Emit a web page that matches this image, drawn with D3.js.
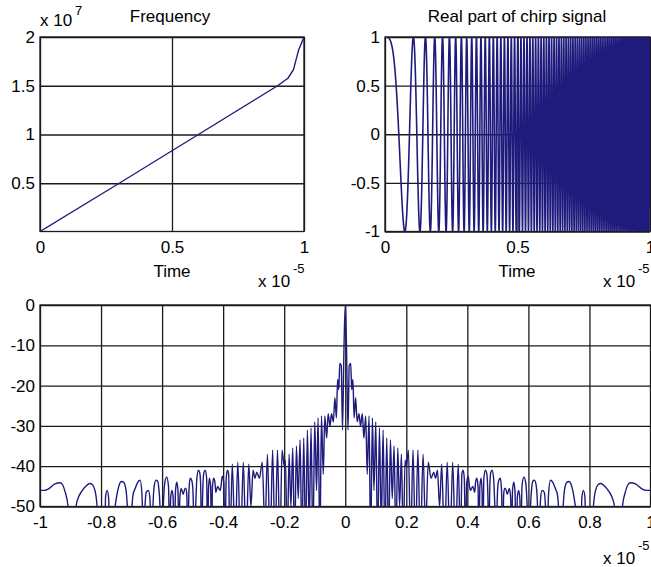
<!DOCTYPE html>
<html>
<head>
<meta charset="utf-8">
<script src="https://cdn.jsdelivr.net/npm/d3@7"></script>
<style>
  body { margin: 0; background: #fff; }
  svg { display: block; }
  text { font-family: "Liberation Sans", Arial, Helvetica, sans-serif; fill: #000; }
</style>
</head>
<body>
<svg id="chart" width="651" height="567"></svg>
<script>
// ---- data ----
// instantaneous frequency: time in units of 1e-5 s, frequency in units of 1e7 Hz
const freqTime = [0, 0.3, 0.6, 0.9, 0.94, 0.96, 0.98, 1.0];
const freqValue = [0.005, 0.5, 1.0, 1.5, 1.58, 1.665, 1.87, 2.0];

const freqXTicks = [0, 0.5, 1];
const freqYTicks = [0.5, 1, 1.5, 2];
const chirpXTicks = [0, 0.5, 1];
const chirpYTicks = [-1, -0.5, 0, 0.5, 1];
const corrXTicks = [-1, -0.8, -0.6, -0.4, -0.2, 0, 0.2, 0.4, 0.6, 0.8, 1];
const corrYTicks = [-50, -40, -30, -20, -10, 0];

// compressed pulse (dB), right half of the symmetric response: [lag (1e-5 s), level (dB)]
// nulls that fall below the axis floor are given as -60 and clipped
const corrRight = [
  [0, 0], [0.004, -10], [0.009, -31], [0.013, -15], [0.018, -14.5], [0.021, -21],
  [0.025, -18.5], [0.029, -28], [0.034, -23], [0.039, -29], [0.045, -27], [0.050, -30],
  [0.056, -27], [0.061, -33], [0.067, -27.5], [0.072, -42], [0.078, -27.5], [0.083, -60],
  [0.089, -28], [0.094, -46], [0.100, -29], [0.106, -60], [0.112, -30.5], [0.118, -55],
  [0.124, -31], [0.130, -60], [0.136, -33], [0.142, -60], [0.148, -33.5], [0.154, -48],
  [0.160, -35], [0.166, -60], [0.172, -35.5], [0.178, -50], [0.184, -37], [0.190, -60],
  [0.196, -38.5], [0.200, -40], [0.207, -36], [0.214, -60], [0.222, -36], [0.230, -60],
  [0.238, -36], [0.246, -60], [0.255, -37], [0.263, -56], [0.272, -39], [0.281, -43],
  [0.290, -41.5], [0.296, -43], [0.302, -41], [0.309, -50], [0.316, -39.5], [0.325, -60],
  [0.334, -39], [0.343, -60], [0.352, -39], [0.361, -60], [0.370, -39.5], [0.378, -60],
  [0.382, -42], [0.386, -41], [0.390, -43], [0.394, -60],
  [0.398, -44], [0.403, -42.5], [0.407, -45], [0.410, -46], [0.414, -45.5], [0.418, -45],
  [0.422, -46], [0.424, -46.5], [0.427, -44], [0.431, -43], [0.435, -45], [0.438, -60],
  [0.441, -45], [0.445, -43], [0.448, -46], [0.451, -60],
  [0.454, -43], [0.459, -41], [0.464, -42], [0.468, -50], [0.470, -60],
  [0.474, -44], [0.477, -41.5], [0.481, -41], [0.486, -43], [0.490, -50], [0.494, -60],
  [0.499, -46], [0.503, -43.5], [0.508, -43], [0.512, -46], [0.516, -60],
  [0.519, -47], [0.522, -45.5], [0.525, -45.5], [0.531, -47], [0.535, -46], [0.538, -45.5],
  [0.542, -48], [0.545, -60],
  [0.548, -46], [0.552, -44], [0.556, -46], [0.560, -60],
  [0.564, -47.5], [0.568, -46], [0.572, -48], [0.575, -60],
  [0.579, -45], [0.585, -42.7], [0.591, -44], [0.596, -50], [0.600, -60],
  [0.609, -47], [0.614, -43.8], [0.620, -43.5], [0.626, -45], [0.631, -52], [0.634, -60],
  [0.640, -48], [0.645, -46], [0.652, -46.5], [0.657, -52], [0.660, -60],
  [0.666, -47], [0.672, -43.5], [0.680, -44], [0.688, -45.5], [0.695, -47], [0.700, -52], [0.704, -60],
  [0.712, -52], [0.718, -46], [0.726, -44], [0.733, -43.8], [0.742, -45], [0.750, -48],
  [0.756, -52], [0.760, -60],
  [0.772, -60], [0.775, -48], [0.780, -46], [0.785, -47.5], [0.789, -60],
  [0.808, -60], [0.813, -50], [0.820, -46], [0.828, -44.6], [0.837, -44.3], [0.850, -45],
  [0.864, -46.3], [0.875, -47.9], [0.882, -50], [0.887, -60],
  [0.903, -60], [0.908, -50], [0.918, -46.3], [0.926, -44.6], [0.934, -44.1], [0.951, -44.4],
  [0.973, -45.7], [0.985, -46], [1.0, -46]
];

// ---- setup ----
const svg = d3.select("#chart");
const lineColor = "#1f1b7d";
const gridColor = "#1a1a1a";
const fontSize = 17;

function drawPanel(id, x, y, xTicks, yTicks) {
  const [xa, xb] = x.range();
  const [yb, ya] = y.range();
  const g = svg.append("g");

  g.append("clipPath").attr("id", id)
    .append("rect").attr("x", xa).attr("y", ya).attr("width", xb - xa).attr("height", yb - ya);

  const gx = g.append("g")
    .attr("transform", `translate(0,${yb})`)
    .call(d3.axisBottom(x).tickValues(xTicks).tickSize(-(yb - ya)).tickPadding(9).tickFormat(String));
  const gy = g.append("g")
    .attr("transform", `translate(${xa},0)`)
    .call(d3.axisLeft(y).tickValues(yTicks).tickSize(-(xb - xa)).tickPadding(5).tickFormat(String));
  [gx, gy].forEach((a) => {
    a.select(".domain").remove();
    a.selectAll("line").attr("stroke", gridColor).attr("stroke-width", 1.3);
    a.selectAll("text").attr("font-size", fontSize).attr("fill", "#000")
      .style("font-family", '"Liberation Sans", Arial, Helvetica, sans-serif');
  });

  g.append("rect")
    .attr("x", xa).attr("y", ya).attr("width", xb - xa).attr("height", yb - ya)
    .attr("fill", "none").attr("stroke", gridColor).attr("stroke-width", 1.3);

  return g.append("g").attr("clip-path", `url(#${id})`);
}

function addText(str, x, y, size, anchor) {
  svg.append("text").attr("x", x).attr("y", y).attr("font-size", size)
    .attr("text-anchor", anchor || "start").text(str);
}

// ---- panel 1: frequency ----
const xF = d3.scaleLinear().domain([0, 1]).range([40, 304]);
const yF = d3.scaleLinear().domain([freqValue[0], 2]).range([231.5, 37]);
const p1 = drawPanel("clipF", xF, yF, freqXTicks, freqYTicks);
p1.append("path")
  .datum(freqTime.map((t, i) => [t, freqValue[i]]))
  .attr("fill", "none").attr("stroke", lineColor).attr("stroke-width", 1.4)
  .attr("d", d3.line().x((d) => xF(d[0])).y((d) => yF(d[1])));

addText("Frequency", 170, 22, fontSize, "middle");
addText("x 10", 40, 26, fontSize);
addText("7", 75, 15, 13);
addText("Time", 172, 277, fontSize, "middle");
addText("x 10", 258, 287, fontSize);
addText("-5", 293, 273, 13);

// ---- panel 2: real part of the chirp, built from the frequency table ----
const xC = d3.scaleLinear().domain([0, 1]).range([385, 650]);
const yC = d3.scaleLinear().domain([-1, 1]).range([231.5, 37]);
const p2 = drawPanel("clipC", xC, yC, chirpXTicks, chirpYTicks);

const fAt = d3.scaleLinear().domain(freqTime).range(freqValue);
const nSamp = 4000;
const chirp = [];
let phase = 0;
for (let i = 0; i <= nSamp; i++) {
  const t = i / nSamp;
  if (i > 0) {
    const tp = (i - 1) / nSamp;
    // cycles = f(1e7 Hz) * dt(1e-5 s) * 100
    phase += 2 * Math.PI * 100 * 0.5 * (fAt(tp) + fAt(t)) / nSamp;
  }
  chirp.push([t, Math.cos(phase)]);
}
p2.append("path")
  .datum(chirp)
  .attr("fill", "none").attr("stroke", lineColor).attr("stroke-width", 1.6)
  .attr("d", d3.line().x((d) => xC(d[0])).y((d) => yC(d[1])));

addText("Real part of chirp signal", 517, 22, fontSize, "middle");
addText("Time", 517, 277, fontSize, "middle");
addText("x 10", 603, 287, fontSize);
addText("-5", 638, 273, 13);

// ---- panel 3: compressed pulse in dB ----
const xR = d3.scaleLinear().domain([-1, 1]).range([40, 650.5]);
const yR = d3.scaleLinear().domain([-50, 0]).range([506.5, 305]);
const p3 = drawPanel("clipR", xR, yR, corrXTicks, corrYTicks);

const corrFull = corrRight.slice(1).map((d) => [-d[0], d[1]]).reverse().concat(corrRight);
p3.append("path")
  .datum(corrFull)
  .attr("fill", "none").attr("stroke", lineColor).attr("stroke-width", 1.4)
  .attr("d", d3.line().curve(d3.curveMonotoneX).x((d) => xR(d[0])).y((d) => yR(d[1])));

addText("x 10", 603, 564, fontSize);
addText("-5", 638, 550, 13);
</script>
</body>
</html>
